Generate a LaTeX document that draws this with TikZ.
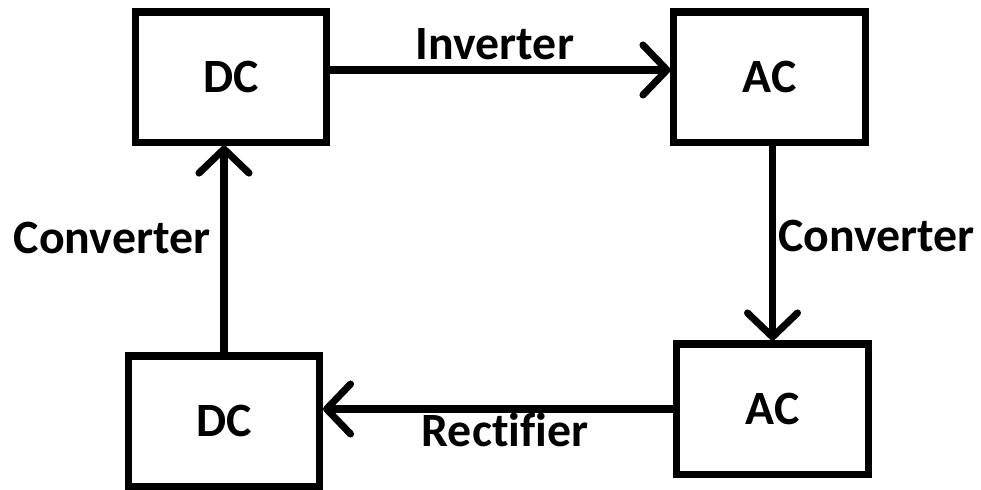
\documentclass[tikz,border=0pt]{standalone}
\usepackage{fontspec}
\setmainfont{Carlito}[Ligatures=CommonOff]
\usepackage{tikz}
\usetikzlibrary{arrows.meta,positioning,calc}

\begin{document}
\begin{tikzpicture}[
    x=0.025cm,
    y=-0.025cm,
    font=\fontsize{34}{40}\selectfont\bfseries,
    box/.style={
        draw=black,
        line width=5pt,
        minimum width=4.775cm,
        minimum height=3.25cm,
        align=center,
        fill=white
    },
    lbl/.style={
        anchor=base,
        inner sep=0pt
    },
    arr/.style={
        line width=5pt,
        -{Straight Barb[length=0.6cm,width=1.25cm,round]}
    }
]
\useasboundingbox (0,0) rectangle (981,489);

% boxes: top row
\node[box] (dcA) at (231,77) {DC};
\node[box] (acA) at (769.5,77) {AC};

% boxes: bottom row
\node[box] (dcB) at (224,421) {DC};
\node[box] (acB) at (772.5,409) {AC};

% connectors round the loop
\draw[arr] ([yshift=0.175cm]dcA.east) -- ([yshift=0.175cm]acA.west);
\draw[arr] (acB.north |- acA.south) -- (acB.north);
\draw[arr] (acB.west) -- (acB.west -| dcB.east);
\draw[arr] (dcB.north) -- (dcB.north |- dcA.south);

% labels
\node[lbl] (inv) at (495,59) {Inverter};
\node[lbl] (convR) at (876.5,251) {Converter};
\node[lbl] (rect) at (505,446) {Rectifier};
\node[lbl] (convL) at (112,253) {Converter};

\end{tikzpicture}
\end{document}
